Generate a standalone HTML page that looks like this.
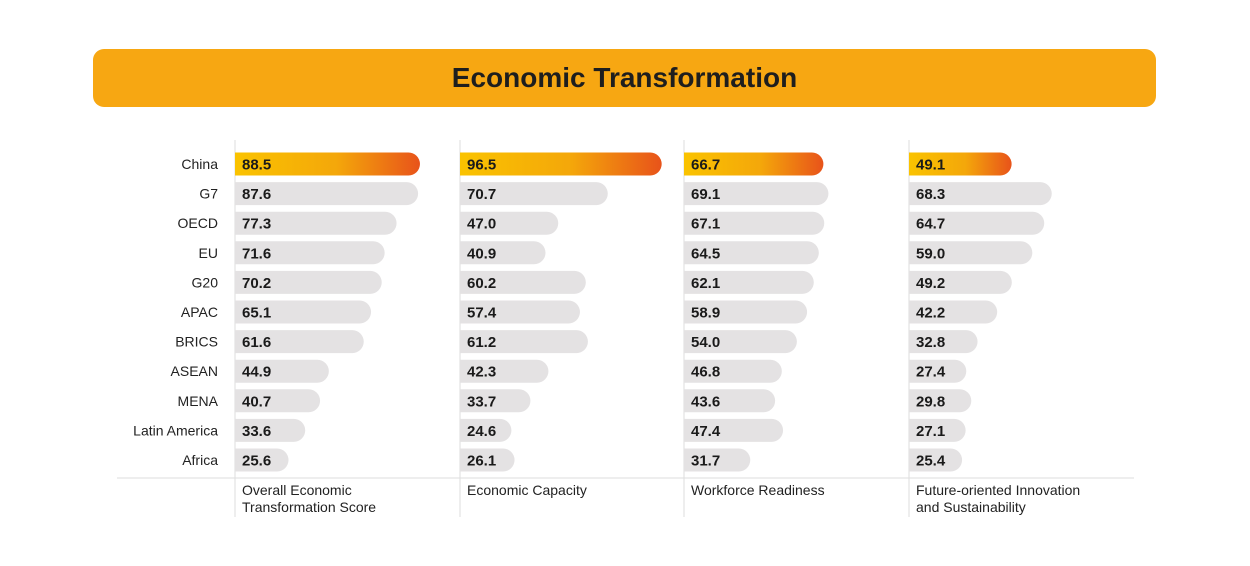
<!DOCTYPE html>
<html><head><meta charset="utf-8"><style>
body{margin:0;width:1250px;height:566px;background:#fff;font-family:"Liberation Sans",sans-serif;position:relative;overflow:hidden}
.title{position:absolute;left:93px;top:49px;width:1063px;height:58px;background:#F7A712;border-radius:11px;text-align:center;line-height:58px;font-weight:bold;font-size:28px;color:#1e1e1e}
</style></head><body>
<div class="title">Economic Transformation</div>
<svg id="chart" width="1250" height="566" style="position:absolute;left:0;top:0">
<defs><linearGradient id="hl" x1="0" x2="1" y1="0" y2="0">
<stop offset="0" stop-color="#FAC300"/><stop offset="0.55" stop-color="#F4A70A"/><stop offset="1" stop-color="#E8531A"/></linearGradient></defs>
</svg>
<script>
const categories=["China","G7","OECD","EU","G20","APAC","BRICS","ASEAN","MENA","Latin America","Africa"];
const overall=[88.5,87.6,77.3,71.6,70.2,65.1,61.6,44.9,40.7,33.6,25.6];
const capacity=[96.5,70.7,47.0,40.9,60.2,57.4,61.2,42.3,33.7,24.6,26.1];
const workforce=[66.7,69.1,67.1,64.5,62.1,58.9,54.0,46.8,43.6,47.4,31.7];
const innovation=[49.1,68.3,64.7,59.0,49.2,42.2,32.8,27.4,29.8,27.1,25.4];
const seriesTitles=[["Overall Economic","Transformation Score"],["Economic Capacity"],["Workforce Readiness"],["Future-oriented Innovation","and  Sustainability"]];
const series=[overall,capacity,workforce,innovation];
const svg=document.getElementById('chart');const NS="http://www.w3.org/2000/svg";
const colX=[235,460,684,909];
const xs=v=>v*2.09;
const ys=i=>164+i*29.6;
const bh=23;
function mk(t,a){const e=document.createElementNS(NS,t);for(const k in a)e.setAttribute(k,a[k]);svg.appendChild(e);return e;}
const axis=mk('line',{x1:117,x2:1134,y1:478,y2:478,stroke:'#ddd','stroke-width':1});


colX.forEach((x,c)=>{
 const l=mk('line',{x1:x,x2:x,y1:140,y2:517,stroke:'#ddd','stroke-width':1});
 
 
 seriesTitles[c].forEach((t,j)=>{
  const tx=mk('text',{x:x+7,y:495+j*17,'font-size':14,fill:'#222'});tx.textContent=t;
  
  
 });
});
categories.forEach((cat,i)=>{
 const t=mk('text',{x:218,y:ys(i)+5,'text-anchor':'end','font-size':14,fill:'#222'});t.textContent=cat;
 
 
 series.forEach((s,c)=>{
  const x=colX[c],w=xs(s[i]),y=ys(i)-bh/2,r=bh/2;
  const p=mk('path',{d:`M${x},${y}H${x+w-r}A${r},${r} 0 0 1 ${x+w-r},${y+bh}H${x}Z`,fill:i===0?'url(#hl)':'#E4E2E3'});
  
  
  const v=mk('text',{x:x+7,y:ys(i)+5.5,'font-size':15,'font-weight':'bold',fill:'#1a1a1a'});v.textContent=s[i].toFixed(1);
  
  
 });
});
</script>
</body></html>
